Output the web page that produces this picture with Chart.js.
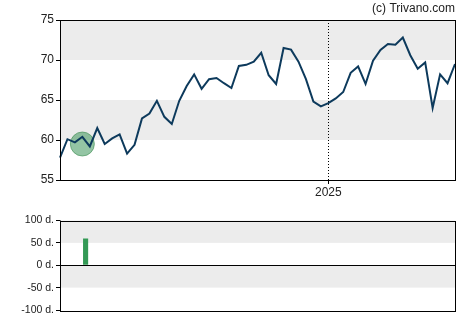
<!DOCTYPE html>
<html>
<head>
<meta charset="utf-8">
<script src="https://cdn.jsdelivr.net/npm/chart.js@4"></script>
<style>
  body { margin: 0; background: #fff; }
  #wrap { position: relative; width: 470px; height: 325px; }
  #priceChart { position: absolute; left: 0; top: 0; }
  #signalChart { position: absolute; left: 0; top: 200px; }
</style>
</head>
<body>
<div id="wrap">
  <canvas id="priceChart" width="470" height="200"></canvas>
  <canvas id="signalChart" width="470" height="125"></canvas>
</div>
<script>
// weekly closes
const weeks = [
  '2024-04-26','2024-05-03','2024-05-10','2024-05-17','2024-05-24','2024-05-31',
  '2024-06-07','2024-06-14','2024-06-21','2024-06-28','2024-07-05','2024-07-12',
  '2024-07-19','2024-07-26','2024-08-02','2024-08-09','2024-08-16','2024-08-23',
  '2024-08-30','2024-09-06','2024-09-13','2024-09-20','2024-09-27','2024-10-04',
  '2024-10-11','2024-10-18','2024-10-25','2024-11-01','2024-11-08','2024-11-15',
  '2024-11-22','2024-11-29','2024-12-06','2024-12-13','2024-12-20','2024-12-27',
  '2025-01-03','2025-01-10','2025-01-17','2025-01-24','2025-01-31','2025-02-07',
  '2025-02-14','2025-02-21','2025-02-28','2025-03-07','2025-03-14','2025-03-21',
  '2025-03-28','2025-04-04','2025-04-11','2025-04-18','2025-04-25','2025-05-02'
];
const prices = [
  57.8, 60.1, 59.7, 60.4, 59.2, 61.5, 59.5, 60.2, 60.7, 58.3,
  59.4, 62.7, 63.3, 64.9, 62.9, 62.0, 64.9, 66.75, 68.2, 66.4,
  67.6, 67.75, 67.1, 66.5, 69.25, 69.4, 69.8, 70.9, 68.1, 67.0,
  71.5, 71.3, 69.8, 67.6, 64.8, 64.2, 64.6, 65.2, 66.0, 68.4,
  69.2, 67.0, 69.9, 71.25, 72.0, 71.9, 72.8, 70.6, 68.9, 69.7,
  64.0, 68.2, 67.1, 69.5
];
// marker circle (signal week)
const signalWeek = 3;
const signalPrice = 59.5;
const signalDays = 60;

const priceTicks = [55, 60, 65, 70, 75];
const dayTicks = [-100, -50, 0, 50, 100];
const yearLabel = '2025';

const markerData = weeks.map((w, i) => i === signalWeek ? signalPrice : null);
const barData = weeks.map((w, i) => i === signalWeek ? signalDays : null);
const yearIdx = weeks.findIndex(w => w.startsWith(yearLabel));

const font = { family: 'Liberation Sans, Arial, sans-serif', size: 12 };

// grey bands, box frame, zero line, year marker
const framePlugin = {
  id: 'frame',
  beforeDatasetsDraw(chart, args, opts) {
    const ctx = chart.ctx, a = chart.chartArea, y = chart.scales.y;
    ctx.save();
    ctx.fillStyle = '#ececec';
    (opts.bands || []).forEach(b => {
      const top = y.getPixelForValue(b[1]), bot = y.getPixelForValue(b[0]);
      ctx.fillRect(a.left, top, a.right - a.left, bot - top);
    });
    if (opts.mark != null) {
      const x = chart.scales.x.getPixelForValue(opts.mark);
      ctx.strokeStyle = '#000';
      ctx.lineWidth = 1;
      ctx.setLineDash([1, 2]);
      ctx.beginPath();
      ctx.moveTo(Math.round(x) + 0.5, a.top);
      ctx.lineTo(Math.round(x) + 0.5, a.bottom);
      ctx.stroke();
      ctx.setLineDash([]);
    }
    if (opts.zero) {
      const z = Math.round(y.getPixelForValue(0)) + 0.5;
      ctx.strokeStyle = '#000';
      ctx.lineWidth = 1;
      ctx.beginPath();
      ctx.moveTo(a.left, z);
      ctx.lineTo(a.right, z);
      ctx.stroke();
    }
    ctx.restore();
  },
  afterDraw(chart) {
    const ctx = chart.ctx, a = chart.chartArea;
    ctx.save();
    ctx.strokeStyle = '#000';
    ctx.lineWidth = 1;
    ctx.strokeRect(Math.round(a.left) + 0.5, Math.round(a.top) + 0.5,
      Math.round(a.right - a.left), Math.round(a.bottom - a.top));
    ctx.restore();
  }
};

new Chart(document.getElementById('priceChart'), {
  type: 'line',
  data: {
    labels: weeks,
    datasets: [{
      data: prices,
      borderColor: '#0d3a5c',
      borderWidth: 2,
      pointRadius: 0,
      tension: 0,
      order: 1
    }, {
      data: markerData,
      showLine: false,
      pointRadius: 12,
      pointHoverRadius: 12,
      pointBackgroundColor: 'rgba(60,150,90,0.55)',
      pointBorderColor: 'rgba(60,140,80,0.6)',
      pointBorderWidth: 1,
      order: 2
    }]
  },
  options: {
    responsive: false,
    animation: false,
    layout: { padding: { left: 0, right: 15, top: 0, bottom: 0 } },
    plugins: {
      legend: { display: false },
      tooltip: { enabled: false },
      title: {
        display: true, text: '(c) Trivano.com', align: 'end', color: '#222',
        font: { family: font.family, size: 12, weight: 'normal' },
        padding: { top: 1, bottom: 4.6 }
      },
      frame: { bands: [[60, 65], [70, 75]], mark: yearIdx }
    },
    scales: {
      x: {
        offset: false,
        afterFit: s => { s.height = 20; },
        afterBuildTicks: s => { s.ticks = s.ticks.filter(t => t.value === yearIdx); },
        grid: { drawOnChartArea: false, tickLength: 4, tickColor: '#000' },
        border: { color: '#000' },
        ticks: {
          autoSkip: false, maxRotation: 0, padding: 1, color: '#222', font: font,
          callback: function(v) { return this.getLabelForValue(v).slice(0, 4); }
        }
      },
      y: {
        min: 55, max: 75,
        afterFit: s => { s.width = 60; },
        afterBuildTicks: s => { s.ticks = priceTicks.map(v => ({ value: v })); },
        grid: { drawOnChartArea: false, tickLength: 4, tickColor: '#000' },
        border: { color: '#000' },
        ticks: { padding: 2, color: '#222', font: font }
      }
    }
  },
  plugins: [framePlugin]
});

new Chart(document.getElementById('signalChart'), {
  type: 'bar',
  data: {
    labels: weeks,
    datasets: [{
      data: barData,
      backgroundColor: '#339955',
      categoryPercentage: 1,
      barPercentage: 0.7
    }]
  },
  options: {
    responsive: false,
    animation: false,
    layout: { padding: { left: 0, right: 15, top: 20.5, bottom: 15 } },
    plugins: {
      legend: { display: false },
      tooltip: { enabled: false },
      frame: { bands: [[50, 100], [-50, 0]], zero: true }
    },
    scales: {
      x: { display: false, offset: true },
      y: {
        min: -100, max: 100,
        afterFit: s => { s.width = 60; },
        afterBuildTicks: s => { s.ticks = dayTicks.map(v => ({ value: v })); },
        grid: { drawOnChartArea: false, tickLength: 4, tickColor: '#000' },
        border: { color: '#000' },
        ticks: {
          padding: 2, color: '#222',
          font: { family: font.family, size: 10.5 },
          callback: v => v + ' d.'
        }
      }
    }
  },
  plugins: [framePlugin]
});
</script>
</body>
</html>
